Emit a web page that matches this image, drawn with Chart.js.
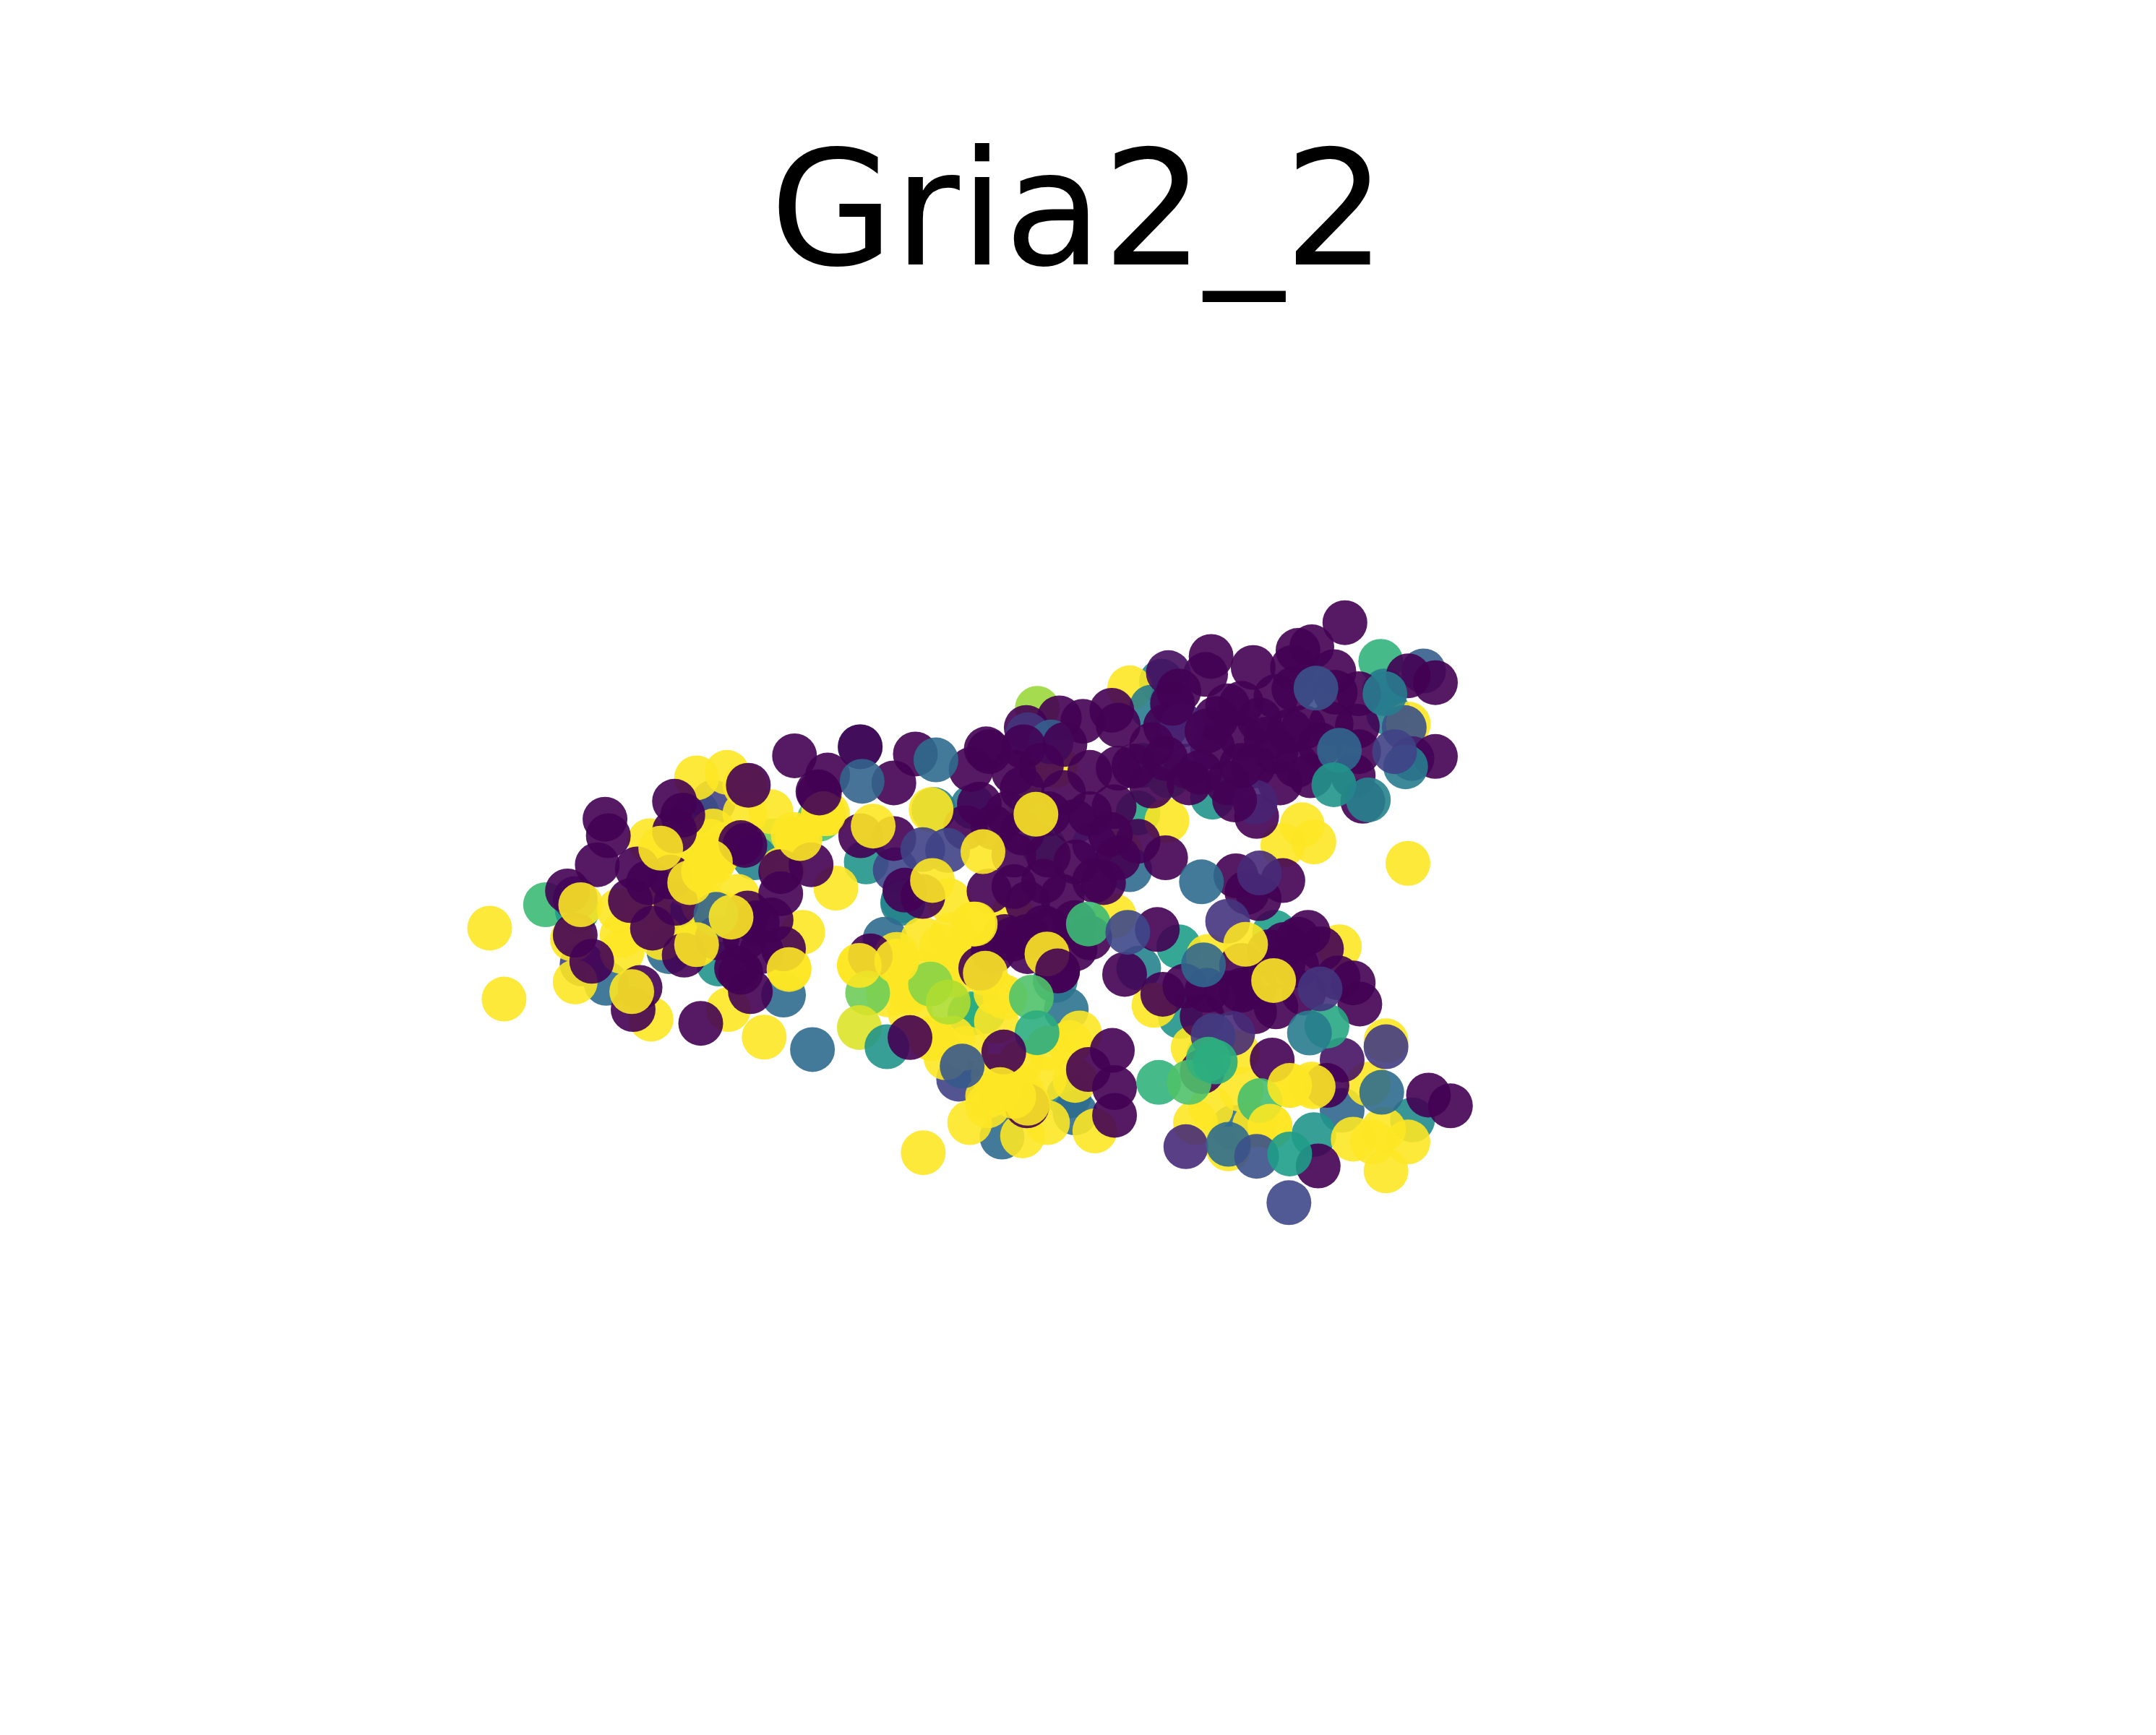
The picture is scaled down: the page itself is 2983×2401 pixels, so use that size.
<!DOCTYPE html>
<html>
<head>
<meta charset="utf-8">
<title>Gria2_2</title>
<script src="https://cdn.jsdelivr.net/npm/chart.js@4"></script>
<style>
  html, body { margin: 0; background: #fff; }
  canvas { display: block; }
</style>
</head>
<body>
<canvas id="spots" width="2983" height="2401"></canvas>
<script>
const geneName = 'Gria2_2';

// spot positions, in drawing order
const spotX = [
  395.5,677,654.7,628,649,505,517,561,547,594,418.5,
  417,489,500,485,521,422,439.5,623.6,568,842,
  752,819,835,850,1001,1032,1003.7,1006.5,1021,1018,
  827.6,847,879,825,705,765,748,812,756.6,819,
  654.4,641.6,854.6,924,825.5,855.6,765,773,774.7,779.4,
  712.8,703.2,695,726.4,894,1024,973,952.5,876,881,
  415,417,449,451,451,498,505,517,517,471,
  505,527,540,559,517,606,582,572,528,472,
  554,355,365.4,526,567,597,578,504,623,650,
  642,644,662,659,692,669,690,682.6,650,676,
  674.6,690.5,685.8,722,728.6,722.3,775.6,782.6,757,735,
  779.4,716,716,703,759.4,793.7,741.3,669.3,846,930,
  944,952.5,1020.7,971,836.6,865,897,876,877.9,866.7,
  890.5,909.6,920.7,935,951,992,981,995,1003,1020.7,
  1004.8,1004.8,807.7,734,688,
  520,500,515,540,575,600,510,535,480,470,
  660,690,700,720,740,760,740,700,670,900,
  438.6,441,433,411.4,417,429,464,459,508,544,
  534,496,473,457,566,566,588,568,549,542,
  552,559,486,462,489,495,489,542.5,537,593,
  600,576,623.6,663.6,648,624,648,656,669,631,
  975,1021,1040.6,951,941,937,967,938,968,985,
  984,1023.6,1040.6,945,988,981,950,957,878,874,
  847,854.6,908.5,890,881.6,913,918,879,845,857,
  860,862,890,928,911,908.5,910,810.6,806,785,
  768,744,745,762,772,742,717,715,704,710,
  741,771,810.6,822,807.7,779,741,793.5,810.6,845,
  793.5,756.6,735,717,896,930,904,912.8,948.3,958,
  941,931,756.6,779,734,839,815.3,843,859,871.5,
  875,900,909.6,970,981,985.8,711,728.6,744.5,779.4,
  766.7,806.4,789,808,808,744.5,973,962,1035.6,1051.5,
  955.6,871.5,
  735,755,730,760,790,790,760,735,700,720,
  780,805,825,770,745,800,835,835,845,870,
  900,925,895,875,900,935,940,965,925,985,
  900,850,540,470,490,540,520,900,930,920,
  945,925,890,910,940,745,760,720,790,
  625,678.5,633,675,669,687,676,421,479,458,
  519,789,817.6,705.5,712.6,751,954,971,967,992,
  1019,1011,913,890,871,923.3,872.5,903,759,766.7,
  714.3,674.6,629,687.4,623,643,659.7,747.7,751.8,727.7,
  697.5,589,962,949.3,957,893.7,879.4,922.3,840,862,
  913.4,920.7,859.7,890.5,911,935,934.4,1004.8,1001.7,
  505,500,515,510,580,530,597,707,623,650,
  735,745,725,952,935,876,881,1004,537,572,594
];

const spotY = [
  656,587,653,625,630.6,589,581.7,609.6,622,594,660,
  651.5,674,664,690,699,699,713,541.5,721.5,494,
  513.6,498.7,512.7,513.5,479.5,486.5,501,517,525,527.5,
  555,562.5,578,589.5,585,555,587,618,614,630.6,
  655,681,686.5,676,702,737,711,732,794.8,807,
  733.6,735,782.5,824.5,817.5,812,805,822.7,765,770,
  681,712,660,678,690,641,632,625,622,609.6,
  564,560,569.4,588.6,602.6,644,676,702,732,739,
  752,673,724.4,663,630,589.5,607.5,683.5,700,697,
  709,721.4,716,719.6,707,681,678,686.5,692,753,
  752.8,752.8,767,719.6,723,740.6,756,749,782.5,786,
  783.4,794.8,801.8,814,814,820,823.6,835.8,595,613,
  598,610.5,626,686.5,729,759.8,763,693.4,803.5,814,
  833,815.7,816.6,787,786,786,826,828,819,828,
  849,754.6,664,664,653,
  620,620,610,590,605,590,655,650,680,660,
  735,700,690,780,770,760,790,760,705,790,
  594,606,627,646,678,697,716,732,742,719,
  702,692.6,673,653,648,632,627,688,669,662,
  690,667,636,630,602.6,591,581,569.4,611,574,
  562,548,541.5,546.7,567.7,606,608,645.4,650,693,
  451.5,490,495,469,471.6,484,487,499.6,502,503,
  526.6,550,548.5,527.5,581,562.5,562.5,540,476,489,
  487.7,501,484,511.8,521,522,536,541.5,526.7,525.8,
  555.5,567.7,567.7,567.7,592,555.5,581.7,525.8,515,523,
  520.5,527.5,532.8,538,539.8,541.5,545,543,558,583,
  572,574.7,557,555.5,585,595.7,604,612,622,622,
  638.5,639,642.8,646,635,638.5,647,651.6,676,688,
  681,684.8,672.5,669,681,674,706.5,720.9,715,737,
  718,718,733.6,709,712.7,728,702,679,679,688,
  704,761.6,775.5,788.6,808.7,801.8,768.6,787,794,801.8,
  845.4,777,
  560,555,590,590,560,590,620,620,600,600,
  625,605,610,650,655,640,540,570,550,560,
  535,545,580,530,510,530,555,525,505,545,
  555,510,613,640,655,680,680,700,700,690,
  720,730,720,715,700,690,675,690,680,
  566.5,551,599,587,616,616.6,638.4,656,615,719,
  663,670,676,670,617.5,590.4,499,544,569,580,
  556,545,633,668,639.4,711,699.6,684.7,691.7,704,
  705.7,713.5,720,726.6,745,759,752.3,723,748.8,762.8,
  773,761,744,749,717,749.3,751,768.6,784.8,784.8,
  798,816.6,831.4,829.7,838.4,836.7,872,759,792,
  685,640,625,632,608,665,590,670,700,697,
  795,800,790,788,787,768,770,503,705,703,575
];

// expression level of each spot, 0 to 1
const spotLevel = [
  .68,.45,.5,.52,.22,.5,.2,.78,.45,.72,.55,
  .15,.6,.33,.35,.52,.2,.35,.45,.35,.45,
  .85,1,.42,.38,.65,.3,.42,.45,1,.25,
  .5,.68,.52,.6,.42,1,.88,1,.65,.35,
  .45,.35,.55,.55,.45,.52,.45,.38,.45,.35,
  .55,.62,.2,.35,.35,.48,.33,.52,.65,.62,
  1,1,1,1,1,1,1,1,1,1,
  1,1,1,1,1,1,1,1,1,1,
  1,1,1,1,1,1,1,1,1,1,
  1,1,1,1,1,1,1,1,1,1,
  1,1,1,1,1,1,1,1,1,1,
  1,1,1,1,1,1,1,1,1,1,
  1,1,1,1,1,1,1,1,1,1,
  1,1,1,1,1,1,1,1,1,1,
  1,1,1,1,1,
  1,1,1,1,1,1,1,1,1,1,
  1,1,1,1,1,1,1,1,1,1,
  0,0,0,0,0,0,0,0,0,0,
  0,0,0,0,0,0,0,0,0,0,
  0,0,0,0,0,0,0,0,0,0,
  0,0,0,0,0,0,0,0,0,0,
  0,0,0,0,0,0,0,0,0,0,
  0,.08,0,0,0,0,0,0,0,0,
  .03,0,0,0,0,0,0,0,0,.1,
  .08,0,0,0,0,0,.1,0,0,0,
  0,0,.15,.3,0,0,0,0,0,0,
  0,0,0,0,0,0,0,.05,0,0,
  0,0,0,0,0,0,0,0,0,0,
  0,0,0,0,0,0,0,0,0,0,
  0,0,0,0,0,0,0,0,0,0,
  0,0,0,0,0,0,.05,0,0,0,
  0,0,
  0,0,0,0,0,0,0,0,0,0,
  0,0,0,0,0,0,0,0,0,0,
  0,0,0,0,0,0,0,0,0,0,
  0,0,0,0,0,0,0,0,0,0,
  0,0,0,0,0,0,0,0,0,
  .32,.35,1,1,.2,.2,1,1,1,1,
  .32,.68,.22,1,1,1,.25,.33,.52,.45,
  .42,.2,.12,.15,.35,1,.33,1,1,0,
  1,.82,.78,.88,.95,.52,0,.72,.62,0,
  .28,.35,.6,.42,.15,.12,.18,0,.65,.72,
  .7,1,.12,.35,.25,.55,.22,.18,.35,
  1,1,1,1,1,1,1,1,1,1,
  1,1,1,1,1,.65,.62,.42,0,1,0
];

const viridisStops = [
  [68, 1, 84], [72, 40, 120], [62, 73, 137], [49, 104, 142], [38, 130, 142],
  [31, 158, 137], [53, 183, 121], [109, 205, 89], [180, 222, 44], [253, 231, 37]
];

function viridis(level) {
  const pos = level * (viridisStops.length - 1);
  const i = Math.min(Math.floor(pos), viridisStops.length - 2);
  const t = pos - i;
  const c = viridisStops[i].map((v, k) => Math.round(v + (viridisStops[i + 1][k] - v) * t));
  return `rgba(${c[0]}, ${c[1]}, ${c[2]}, 0.9)`;
}

new Chart(document.getElementById('spots'), {
  type: 'scatter',
  data: {
    datasets: [{
      label: geneName,
      data: spotX.map((x, i) => ({ x, y: spotY[i] })),
      backgroundColor: spotLevel.map(viridis),
      borderWidth: 0,
      pointRadius: 31,
      pointHoverRadius: 31
    }]
  },
  options: {
    responsive: false,
    animation: false,
    devicePixelRatio: 1,
    events: [],
    layout: { padding: 0, autoPadding: false },
    scales: {
      x: { display: false, min: 0, max: 1563 },
      y: { display: false, reverse: true, min: 231.5, max: 1258 }
    },
    plugins: {
      legend: { display: false },
      tooltip: { enabled: false },
      title: {
        display: true,
        text: geneName,
        color: '#000',
        font: { family: 'DejaVu Sans', size: 221.5, weight: 'normal' },
        padding: { top: 176, bottom: 0 }
      }
    }
  }
});
</script>
</body>
</html>
